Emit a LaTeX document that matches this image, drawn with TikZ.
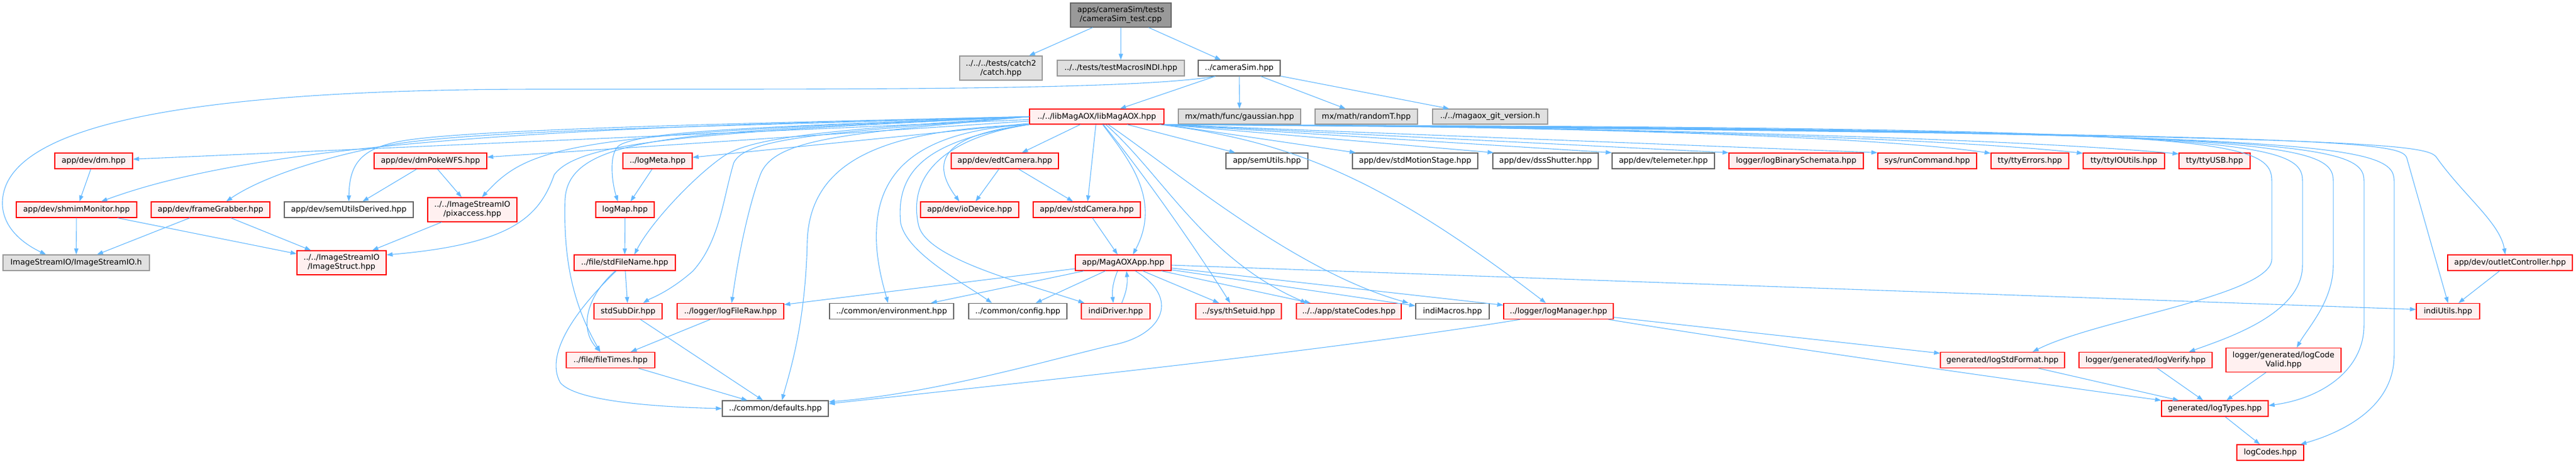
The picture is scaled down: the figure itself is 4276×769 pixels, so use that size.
\documentclass[tikz,border=0pt]{standalone}
\usepackage{fontspec}
\newfontfamily\dxfont{DejaVu Sans}
\usepackage{tikz}
\usetikzlibrary{arrows.meta}
\definecolor{dxedge}{RGB}{99,184,255}
\definecolor{dxred}{RGB}{255,0,0}
\definecolor{dxpink}{RGB}{255,240,240}
\definecolor{dxgray}{RGB}{224,224,224}
\definecolor{dxgrayline}{RGB}{153,153,153}
\definecolor{dxdark}{RGB}{153,153,153}
\definecolor{dxline}{RGB}{102,102,102}

\begin{document}
\begin{tikzpicture}[
    x=1pt, y=1pt,
    concept/.style={rectangle, draw=dxline, fill=white, line width=1.3pt, inner sep=0pt, minimum height=26, align=center, font=\dxfont\fontsize{12.9}{15}\selectfont},
    trunc/.style={concept, draw=dxred, fill=dxpink},
    extern/.style={concept, draw=dxgrayline, fill=dxgray},
    rootnode/.style={concept, fill=dxdark},
    relation/.style={-{Triangle[length=10pt,width=7pt]}, dxedge, line width=1.1pt}
]
\useasboundingbox (0,0) rectangle (4276,-769);

% Top level
\node (root) [rootnode, minimum width=167, minimum height=40] at (1860.5,-25) {apps/cameraSim/tests\\/cameraSim\_test.cpp};
\node (catch) [extern, minimum width=137, minimum height=40] at (1661.5,-113) {../../../tests/catch2\\/catch.hpp};
\node (testMacros) [extern, minimum width=211] at (1860.5,-113) {../../tests/testMacrosINDI.hpp};
\node (cameraSim) [concept, minimum width=136] at (2057,-113) {../cameraSim.hpp};

% libMagAOX level
\node (libMagAOX) [trunc, minimum width=223, minimum height=25] at (1820.5,-193.5) {../../libMagAOX/libMagAOX.hpp};
\node (gaussian) [extern, minimum width=203, minimum height=25] at (2057.5,-193.5) {mx/math/func/gaussian.hpp};
\node (randomT) [extern, minimum width=170, minimum height=25] at (2268,-193.5) {mx/math/randomT.hpp};
\node (gitVersion) [extern, minimum width=191, minimum height=25] at (2473.5,-193.5) {../../magaox\_git\_version.h};

% First row
\node (dm) [trunc, minimum width=129] at (155.5,-267) {app/dev/dm.hpp};
\node (dmPokeWFS) [trunc, minimum width=187] at (714.5,-267) {app/dev/dmPokeWFS.hpp};
\node (logMeta) [trunc, minimum width=115] at (1091.5,-267) {../logMeta.hpp};
\node (edtCamera) [trunc, minimum width=178] at (1668,-267) {app/dev/edtCamera.hpp};
\node (semUtils) [concept, minimum width=136] at (2103,-267) {app/semUtils.hpp};
\node (stdMotionStage) [concept, minimum width=208] at (2349,-267) {app/dev/stdMotionStage.hpp};
\node (dssShutter) [concept, minimum width=175] at (2565.5,-267) {app/dev/dssShutter.hpp};
\node (telemeter) [concept, minimum width=170] at (2761,-267) {app/dev/telemeter.hpp};
\node (logBinary) [trunc, minimum width=223] at (2981.5,-267) {logger/logBinarySchemata.hpp};
\node (runCommand) [trunc, minimum width=164] at (3199,-267) {sys/runCommand.hpp};
\node (ttyErrors) [trunc, minimum width=129] at (3369.5,-267) {tty/ttyErrors.hpp};
\node (ttyIOUtils) [trunc, minimum width=135] at (3525.5,-267) {tty/ttyIOUtils.hpp};
\node (ttyUSB) [trunc, minimum width=118] at (3676,-267) {tty/ttyUSB.hpp};

% Second row
\node (shmimMonitor) [trunc, minimum width=200] at (127,-348) {app/dev/shmimMonitor.hpp};
\node (frameGrabber) [trunc, minimum width=197] at (349.5,-348) {app/dev/frameGrabber.hpp};
\node (semUtilsDerived) [concept, minimum width=214] at (579,-348) {app/dev/semUtilsDerived.hpp};
\node (pixaccess) [trunc, minimum width=148, minimum height=40] at (784,-348) {../../ImageStreamIO\\/pixaccess.hpp};
\node (logMap) [trunc, minimum width=97] at (1037.5,-348) {logMap.hpp};
\node (ioDevice) [trunc, minimum width=163] at (1609.5,-348) {app/dev/ioDevice.hpp};
\node (stdCamera) [trunc, minimum width=178] at (1804,-348) {app/dev/stdCamera.hpp};

% Third row
\node (imageStreamIO) [extern, minimum width=243] at (126.5,-436) {ImageStreamIO/ImageStreamIO.h};
\node (imageStruct) [trunc, minimum width=148, minimum height=40] at (567,-436) {../../ImageStreamIO\\/ImageStruct.hpp};
\node (stdFileName) [trunc, minimum width=168] at (1037,-436) {../file/stdFileName.hpp};
\node (magAOXApp) [trunc, minimum width=159] at (1864.5,-436) {app/MagAOXApp.hpp};
\node (outletController) [trunc, minimum width=207] at (4166.5,-436) {app/dev/outletController.hpp};

% Fourth row
\node (stdSubDir) [trunc, minimum width=113] at (1042.5,-516.5) {stdSubDir.hpp};
\node (logFileRaw) [trunc, minimum width=177] at (1212.5,-516.5) {../logger/logFileRaw.hpp};
\node (environment) [concept, minimum width=206] at (1480,-516.5) {../common/environment.hpp};
\node (config) [concept, minimum width=163] at (1689.5,-516.5) {../common/config.hpp};
\node (indiDriver) [trunc, minimum width=114] at (1852,-516.5) {indiDriver.hpp};
\node (thSetuid) [trunc, minimum width=142] at (2056,-516.5) {../sys/thSetuid.hpp};
\node (stateCodes) [trunc, minimum width=174] at (2239,-516.5) {../../app/stateCodes.hpp};
\node (indiMacros) [concept, minimum width=122] at (2411,-516.5) {indiMacros.hpp};
\node (logManager) [trunc, minimum width=182] at (2587,-516.5) {../logger/logManager.hpp};
\node (indiUtils) [trunc, minimum width=105] at (4063.5,-516.5) {indiUtils.hpp};

% Bottom rows
\node (fileTimes) [trunc, minimum width=147] at (1013.5,-597.5) {../file/fileTimes.hpp};
\node (logStdFormat) [trunc, minimum width=206] at (3324,-597.5) {generated/logStdFormat.hpp};
\node (logVerify) [trunc, minimum width=221] at (3561.5,-597.5) {logger/generated/logVerify.hpp};
\node (logCodeValid) [trunc, minimum width=191, minimum height=40] at (3790.5,-597.5) {logger/generated/logCode\\Valid.hpp};
\node (defaults) [concept, minimum width=176] at (1287,-678) {../common/defaults.hpp};
\node (logTypes) [trunc, minimum width=177] at (3676.5,-678) {generated/logTypes.hpp};
\node (logCodes) [trunc, minimum width=111] at (3768.5,-751) {logCodes.hpp};

% Connections from the test file
\draw[relation] (root) -- (catch);
\draw[relation] (root) -- (testMacros);
\draw[relation] (root) -- (cameraSim);
\draw[relation] (cameraSim) -- (libMagAOX);
\draw[relation] (cameraSim) -- (gaussian);
\draw[relation] (cameraSim) -- (randomT);
\draw[relation] (cameraSim) -- (gitVersion);
\draw[relation] ([xshift=29]cameraSim.south west) .. controls (1880,-150) and (1400,-148) .. (900,-148) .. controls (300,-148) and (0,-210) .. (4,-340) .. controls (6,-380) and (40,-405) .. ([xshift=72]imageStreamIO.north west);

% libMagAOX to the left
\draw[relation] (libMagAOX) -- (dm);
\draw[relation] (libMagAOX) -- (dmPokeWFS);
\draw[relation] (libMagAOX) -- (logMeta);
\draw[relation] (libMagAOX.west) .. controls (1000,-210) and (450,-230) .. ([xshift=41]shmimMonitor.north);
\draw[relation] (libMagAOX.west) .. controls (1200,-210) and (800,-215) .. (650,-240) .. controls (560,-255) and (440,-290) .. ([xshift=26]frameGrabber.north);
\draw[relation] (libMagAOX.west) .. controls (1200,-205) and (800,-215) .. (680,-232) .. controls (600,-243) and (580,-270) .. (semUtilsDerived.north);
\draw[relation] (libMagAOX.west) .. controls (950,-222) and (880,-240) .. ([xshift=16]pixaccess.north);
\draw[relation] (libMagAOX.west) .. controls (1300,-210) and (1080,-215) .. (1030,-240) .. controls (1010,-250) and (1015,-300) .. ([xshift=-12]logMap.north);
\draw[relation] (libMagAOX.west) .. controls (1150,-220) and (960,-235) .. (920,-290) .. controls (895,-360) and (850,-405) .. ([yshift=13]imageStruct.east);
\draw[relation] (libMagAOX.west) .. controls (1150,-220) and (945,-220) .. (938,-330) .. controls (934,-450) and (960,-520) .. ([xshift=-17]fileTimes.north);
\draw[relation] (libMagAOX.west) .. controls (1400,-215) and (1250,-225) .. (1200,-260) .. controls (1150,-295) and (1080,-370) .. ([xshift=16]stdFileName.north);
\draw[relation] (libMagAOX.west) .. controls (1400,-220) and (1240,-225) .. (1218,-270) .. controls (1200,-330) and (1195,-400) .. (1150,-450) .. controls (1110,-485) and (1080,-495) .. ([xshift=25]stdSubDir.north);
\draw[relation] (libMagAOX.west) .. controls (1400,-222) and (1285,-230) .. (1262,-290) .. controls (1240,-350) and (1225,-430) .. ([xshift=2]logFileRaw.north);
\draw[relation] (libMagAOX.south west) .. controls (1500,-215) and (1345,-250) .. (1340,-400) .. controls (1337,-540) and (1310,-620) .. ([xshift=11]defaults.north);
\draw[relation] (libMagAOX.south west) .. controls (1560,-215) and (1460,-260) .. (1455,-380) .. controls (1452,-430) and (1468,-480) .. ([xshift=-6]environment.north);
\draw[relation] (libMagAOX.south west) .. controls (1560,-230) and (1485,-270) .. (1495,-370) .. controls (1505,-420) and (1600,-470) .. ([xshift=-43]config.north);
\draw[relation] (libMagAOX.south west) .. controls (1570,-228) and (1505,-290) .. (1525,-375) .. controls (1540,-430) and (1700,-470) .. ([xshift=-52]indiDriver.north);
\draw[relation] (libMagAOX.south west) .. controls (1600,-220) and (1530,-250) .. ([xshift=-17]ioDevice.north);

% libMagAOX straight down
\draw[relation] (libMagAOX) -- (edtCamera);
\draw[relation] (libMagAOX) -- (stdCamera);
\draw[relation] (libMagAOX) .. controls (1870,-260) and (1930,-330) .. ([xshift=16]magAOXApp.north);
\draw[relation] (libMagAOX) .. controls (1900,-290) and (1990,-420) .. ([xshift=-14]thSetuid.north);
\draw[relation] (libMagAOX) .. controls (1930,-290) and (2000,-430) .. ([xshift=-70]stateCodes.north);
\draw[relation] (libMagAOX) .. controls (1960,-290) and (2150,-450) .. ([xshift=-73]indiMacros.north);
\draw[relation] (libMagAOX) .. controls (2150,-235) and (2300,-300) .. ([xshift=-21]logManager.north);
\draw[relation] (libMagAOX) -- (semUtils);

% libMagAOX to the right
\draw[relation] (libMagAOX.south east) -- ([xshift=6]stdMotionStage.north west);
\draw[relation] (libMagAOX.south east) -- ([xshift=2]dssShutter.north west);
\draw[relation] (libMagAOX.south east) -- (telemeter.north west);
\draw[relation] (libMagAOX.south east) -- (logBinary.north west);
\draw[relation] (libMagAOX.south east) -- (runCommand.north west);
\draw[relation] (libMagAOX.south east) .. controls (2500,-208) and (3100,-224) .. ([yshift=-1]ttyErrors.north west);
\draw[relation] (libMagAOX.south east) .. controls (2500,-208) and (3200,-226) .. ([yshift=-1]ttyIOUtils.north west);
\draw[relation] (libMagAOX.south east) .. controls (2500,-208) and (3300,-226) .. ([yshift=-2]ttyUSB.north west);
\draw[relation] (libMagAOX.south east) .. controls (3650,-212) and (3771,-225) .. (3771,-300) -- (3771,-430) .. controls (3771,-490) and (3480,-530) .. ([xshift=50]logStdFormat.north);
\draw[relation] (libMagAOX.south east) .. controls (3700,-214) and (3822,-230) .. (3822,-300) -- (3822,-440) .. controls (3822,-520) and (3700,-560) .. ([xshift=72]logVerify.north);
\draw[relation] (libMagAOX.south east) .. controls (3750,-216) and (3873,-232) .. (3873,-300) -- (3873,-440) .. controls (3873,-500) and (3830,-545) .. ([xshift=22]logCodeValid.north);
\draw[relation] (libMagAOX.south east) .. controls (3800,-218) and (3924,-234) .. (3924,-300) -- (3924,-540) .. controls (3924,-610) and (3860,-660) .. ([yshift=5]logTypes.east);
\draw[relation] (libMagAOX.south east) .. controls (3850,-220) and (3974,-236) .. (3974,-300) -- (3974,-590) .. controls (3974,-680) and (3880,-720) .. ([xshift=50]logCodes.north);
\draw[relation] (libMagAOX.south east) .. controls (3900,-222) and (3985,-235) .. (3995,-262) -- (indiUtils.north);
\draw[relation] (libMagAOX.south east) .. controls (3950,-224) and (4030,-238) .. (4045,-262) .. controls (4090,-325) and (4150,-370) .. ([xshift=-8]outletController.north);

% Other includes
\draw[relation] (dm) -- (shmimMonitor);
\draw[relation] (dmPokeWFS) -- (semUtilsDerived);
\draw[relation] (dmPokeWFS) -- (pixaccess);
\draw[relation] (shmimMonitor) -- (imageStreamIO);
\draw[relation] (shmimMonitor) -- (imageStruct);
\draw[relation] (frameGrabber) -- (imageStreamIO);
\draw[relation] (frameGrabber) -- (imageStruct);
\draw[relation] (pixaccess) -- (imageStruct);
\draw[relation] (logMeta) -- (logMap);
\draw[relation] (logMap) -- (stdFileName);
\draw[relation] (stdFileName) -- (stdSubDir);
\draw[relation] (stdFileName) .. controls (975,-490) and (960,-545) .. ([xshift=-17]fileTimes.north);
\draw[relation] (stdFileName) .. controls (950,-520) and (905,-590) .. (930,-635) .. controls (955,-665) and (1080,-675) .. (defaults.west);
\draw[relation] (stdSubDir) -- (defaults);
\draw[relation] (logFileRaw) -- (fileTimes);
\draw[relation] (fileTimes) -- (defaults);
\draw[relation] (edtCamera) -- (ioDevice);
\draw[relation] (edtCamera) -- (stdCamera);
\draw[relation] (stdCamera) -- (magAOXApp);

% MagAOXApp includes
\draw[relation] (magAOXApp) -- (logFileRaw);
\draw[relation] (magAOXApp) -- (environment);
\draw[relation] (magAOXApp) -- (config);
\draw[relation] ([xshift=-9.5]magAOXApp.south) to[bend right=14] ([xshift=-4]indiDriver.north);
\draw[relation] ([xshift=10]indiDriver.north) to[bend right=14] ([xshift=5.5]magAOXApp.south);
\draw[relation] (magAOXApp) -- (thSetuid);
\draw[relation] (magAOXApp) -- (stateCodes);
\draw[relation] (magAOXApp) -- (indiMacros);
\draw[relation] (magAOXApp) -- (logManager);
\draw[relation] ([yshift=-4]magAOXApp.east) -- ([yshift=3]indiUtils.west);
\draw[relation] ([xshift=20]magAOXApp.south) .. controls (1960,-495) and (1930,-555) .. (1850,-572) .. controls (1760,-592) and (1560,-652) .. ([yshift=11]defaults.east);

% Logger includes
\draw[relation] (logManager) -- (logStdFormat);
\draw[relation] (logManager) .. controls (2900,-568) and (3350,-632) .. (logTypes.north west);
\draw[relation] ([xshift=28]logManager.south west) .. controls (2224,-579) and (1775,-627) .. ([yshift=8]defaults.east);
\draw[relation] (outletController) -- (indiUtils);
\draw[relation] (logStdFormat) -- (logTypes);
\draw[relation] (logVerify) -- (logTypes);
\draw[relation] (logCodeValid) -- (logTypes);
\draw[relation] (logTypes) -- (logCodes);
\end{tikzpicture}
\end{document}
